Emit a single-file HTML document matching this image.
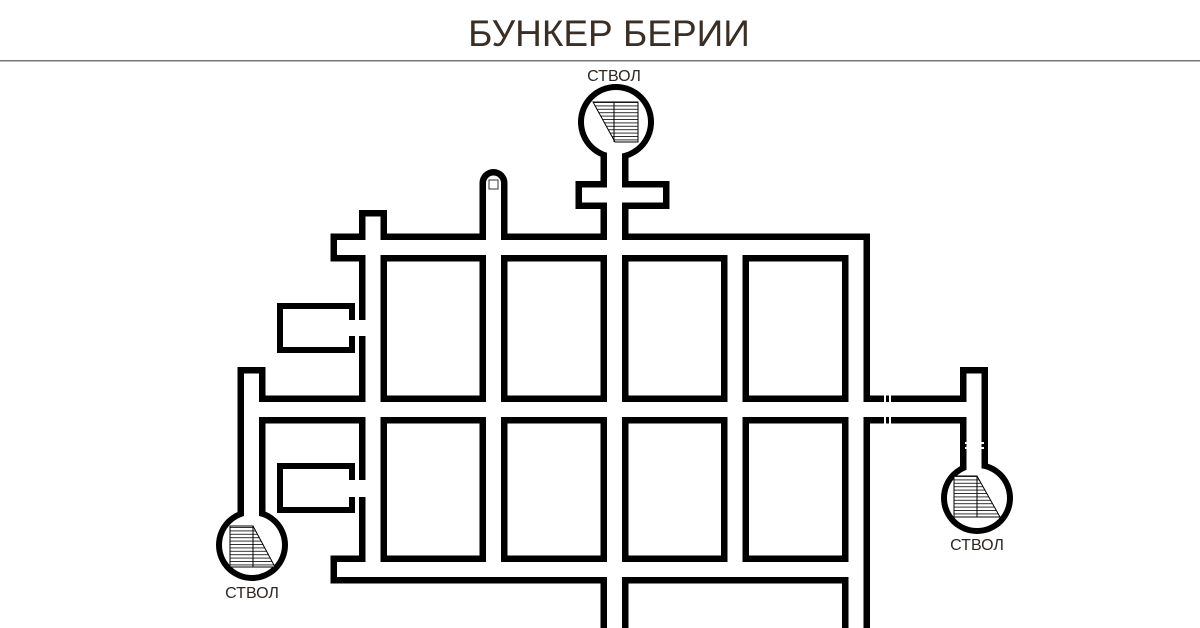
<!DOCTYPE html>
<html><head><meta charset="utf-8"><style>
html,body{margin:0;padding:0;background:#fff;width:1200px;height:628px;overflow:hidden}
svg{display:block}
</style></head><body>
<svg width="1200" height="628" viewBox="0 0 1200 628" xmlns="http://www.w3.org/2000/svg">
<defs>
<pattern id="h" width="10" height="3.4" patternUnits="userSpaceOnUse">
<rect width="10" height="3.4" fill="#fff"/><line x1="0" y1="0.5" x2="10" y2="0.5" stroke="#000" stroke-width="0.8"/>
</pattern>
</defs>
<text x="609" y="46" text-anchor="middle" font-family="Liberation Sans, sans-serif" font-size="37" fill="#3a2e25">БУНКЕР БЕРИИ</text>
<rect x="0" y="60" width="1200" height="1.5" fill="#777"/>

<g fill="none" stroke="#000" stroke-width="28" stroke-linecap="square" stroke-linejoin="miter">
<path d="M344.5,247.5 H856 V650"/>
<path d="M373,224 V569.5"/>
<path d="M344.5,569.5 H856"/>
<path d="M251.5,409.5 H974"/>
<path d="M251.5,381 V545"/>
<path d="M974,381 V498"/>
<path d="M735,247.5 V569.5"/>
<path d="M614.5,122 V650"/>
<path d="M589.5,195 H655.5"/>
<path d="M493.5,183 V569.5" stroke-linecap="round"/>
</g>
<g fill="#000">
<circle cx="616" cy="122" r="38"/>
<circle cx="252" cy="545" r="36"/>
<circle cx="977" cy="498" r="36"/>
<rect x="277" y="303" width="78" height="50"/>
<rect x="277" y="463" width="78" height="50"/>
</g>
<g fill="none" stroke="#fff" stroke-width="15" stroke-linecap="square" stroke-linejoin="miter">
<path d="M344.5,247.5 H856 V650"/>
<path d="M373,224 V569.5"/>
<path d="M344.5,569.5 H856"/>
<path d="M251.5,409.5 H974"/>
<path d="M251.5,381 V545"/>
<path d="M974,381 V498"/>
<path d="M735,247.5 V569.5"/>
<path d="M614.5,122 V650"/>
<path d="M589.5,195 H655.5"/>
<path d="M493.5,183 V569.5" stroke-linecap="round"/>
</g>
<g fill="#fff">
<circle cx="616" cy="122" r="32"/>
<circle cx="252" cy="545" r="30"/>
<circle cx="977" cy="498" r="30"/>
<rect x="283" y="309" width="66" height="38"/>
<rect x="283" y="469" width="66" height="38"/>
<rect x="345" y="320" width="30" height="16"/>
<rect x="345" y="480" width="30" height="17"/>
<rect x="884" y="395" width="2" height="8"/>
<rect x="889" y="395" width="2" height="8"/>
<rect x="884" y="416" width="2" height="8"/>
<rect x="889" y="416" width="2" height="8"/>
<rect x="965" y="442" width="8" height="2"/>
<rect x="976" y="442" width="8" height="2"/>
<rect x="965" y="447" width="8" height="2"/>
<rect x="976" y="447" width="8" height="2"/>
</g>
<rect x="489" y="180" width="9" height="9" fill="none" stroke="#555" stroke-width="1.2"/>

<g stroke="#000" stroke-width="1">
<polygon points="593,102 638,102 638,142 615,142" fill="url(#h)"/>
<line x1="614" y1="102" x2="614" y2="142"/>
<polygon points="230,526 253,526 275,567 230,567" fill="url(#h)"/>
<line x1="253" y1="526" x2="253" y2="567"/>
<polygon points="954,476 977,476 1000,517 954,517" fill="url(#h)"/>
<line x1="977" y1="476" x2="977" y2="517"/>
</g>

<g font-family="Liberation Sans, sans-serif" font-size="16" fill="#2e2620" text-anchor="middle">
<text x="614" y="81">СТВОЛ</text>
<text x="252" y="598">СТВОЛ</text>
<text x="977" y="550">СТВОЛ</text>
</g>
</svg>
</body></html>
